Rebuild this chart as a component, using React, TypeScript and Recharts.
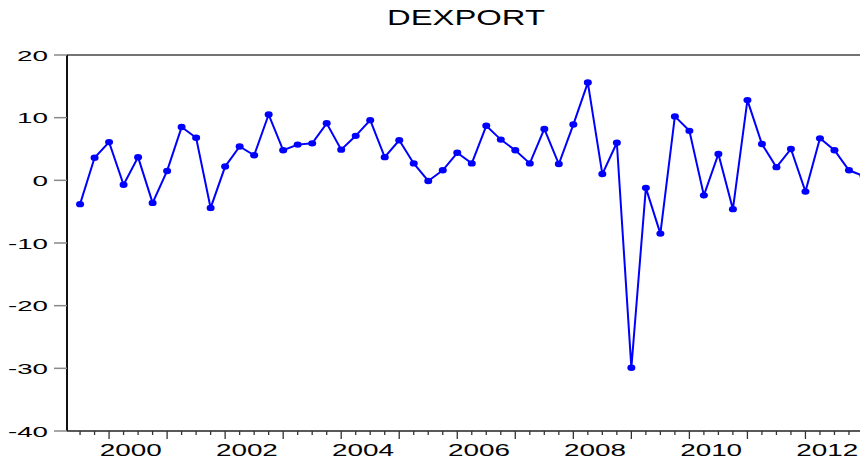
import React from 'react';
import { LineChart, Line, XAxis, YAxis, ReferenceLine } from 'recharts';

const quarters: string[] = [
  '1999Q3', '1999Q4',
  '2000Q1', '2000Q2', '2000Q3', '2000Q4',
  '2001Q1', '2001Q2', '2001Q3', '2001Q4',
  '2002Q1', '2002Q2', '2002Q3', '2002Q4',
  '2003Q1', '2003Q2', '2003Q3', '2003Q4',
  '2004Q1', '2004Q2', '2004Q3', '2004Q4',
  '2005Q1', '2005Q2', '2005Q3', '2005Q4',
  '2006Q1', '2006Q2', '2006Q3', '2006Q4',
  '2007Q1', '2007Q2', '2007Q3', '2007Q4',
  '2008Q1', '2008Q2', '2008Q3', '2008Q4',
  '2009Q1', '2009Q2', '2009Q3', '2009Q4',
  '2010Q1', '2010Q2', '2010Q3', '2010Q4',
  '2011Q1', '2011Q2', '2011Q3', '2011Q4',
  '2012Q1', '2012Q2', '2012Q3', '2012Q4',
  '2013Q1',
];

const dexport: number[] = [
  -3.8, 3.6,
  6.1, -0.7, 3.7, -3.6,
  1.5, 8.5, 6.8, -4.4,
  2.2, 5.4, 4.0, 10.5,
  4.8, 5.7, 5.9, 9.1,
  4.9, 7.1, 9.6, 3.7,
  6.4, 2.7, -0.1, 1.6,
  4.4, 2.7, 8.7, 6.5,
  4.8, 2.7, 8.2, 2.6,
  8.9, 15.6, 1.0, 6.0,
  -29.9, -1.2, -8.5, 10.2,
  7.9, -2.4, 4.2, -4.6,
  12.8, 5.8, 2.1, 5.0,
  -1.8, 6.7, 4.8, 1.6,
  0.7,
];

const yTicks: number[] = [-40, -30, -20, -10, 0, 10, 20];
const yearLabels: number[] = [2000, 2002, 2004, 2006, 2008, 2010, 2012];

const FONT = '"Liberation Sans", Arial, sans-serif';

const data = dexport.map((v, i) => ({ i, q: quarters[i], v }));

const xDomain: [number, number] = [-0.9, 53.76];
const quarterTicks = quarters.map((_, i) => i).filter((i) => i >= xDomain[0] && i <= xDomain[1]);
const labelTicks = yearLabels.map((y) => quarters.indexOf(`${y}Q1`) + 1.5);
const xTicks = [...quarterTicks, ...labelTicks];

const XTick = (props: any) => {
  const { x, y, payload } = props;
  const v: number = payload.value;
  if (Number.isInteger(v)) {
    const major = quarters[v] && quarters[v].endsWith('Q1');
    return (
      <line x1={x} x2={x} y1={y} y2={y + (major ? 8 : 4)} stroke="#333" strokeWidth={1.3} />
    );
  }
  const year = quarters[Math.floor(v)].slice(0, 4);
  return (
    <text
      x={x}
      y={y + 25}
      textAnchor="middle"
      fontFamily={FONT}
      fontSize={17}
      fill="#000"
      textLength={62}
      lengthAdjust="spacingAndGlyphs"
    >
      {year}
    </text>
  );
};

const YTick = (props: any) => {
  const { x, y, payload } = props;
  const v: number = payload.value;
  const label = String(v);
  const digits = label.replace('-', '').length;
  const w = digits * 15.5 + (v < 0 ? 9 : 0);
  return (
    <g>
      <line x1={x - 13} x2={x} y1={y} y2={y} stroke="#888" strokeWidth={1.5} />
      <text
        x={x - 19}
        y={y + 5.5}
        textAnchor="end"
        fontFamily={FONT}
        fontSize={15.5}
        fill="#000"
        textLength={w}
        lengthAdjust="spacingAndGlyphs"
      >
        {label}
      </text>
    </g>
  );
};

const Dot = (props: any) => {
  const { cx, cy, index } = props;
  if (cx == null || cy == null) return <g key={index} />;
  return <ellipse key={index} cx={cx} cy={cy} rx={4} ry={3.2} fill="#0000ff" />;
};

export default function App() {
  return (
    <div
      style={{
        position: 'absolute',
        left: 0,
        top: 0,
        width: 860,
        height: 462,
        overflow: 'hidden',
        background: '#fff',
      }}
    >
      <svg style={{ position: 'absolute', left: 0, top: 0 }} width={860} height={40}>
        <text
          x={466}
          y={25}
          textAnchor="middle"
          fontFamily={FONT}
          fontSize={22}
          fill="#000"
          textLength={158}
          lengthAdjust="spacingAndGlyphs"
        >
          DEXPORT
        </text>
      </svg>
      <LineChart width={860} height={462} data={data} margin={{ top: 55, right: 0, bottom: 0, left: 0 }}>
        <XAxis
          dataKey="i"
          type="number"
          domain={xDomain}
          allowDataOverflow
          ticks={xTicks}
          interval={0}
          tickSize={0}
          tickMargin={0}
          tickLine={false}
          tick={XTick}
          height={31}
          axisLine={{ stroke: '#222', strokeWidth: 1.5 }}
        />
        <YAxis
          type="number"
          domain={[-40, 20]}
          ticks={yTicks}
          interval={0}
          width={67}
          tickSize={0}
          tickMargin={0}
          tickLine={false}
          tick={YTick}
          axisLine={{ stroke: '#111', strokeWidth: 2 }}
        />
        <ReferenceLine y={20} stroke="#444" strokeWidth={1.5} />
        <Line
          type="linear"
          dataKey="v"
          stroke="#0000ff"
          strokeWidth={2}
          dot={Dot}
          activeDot={false}
          isAnimationActive={false}
        />
      </LineChart>
    </div>
  );
}
